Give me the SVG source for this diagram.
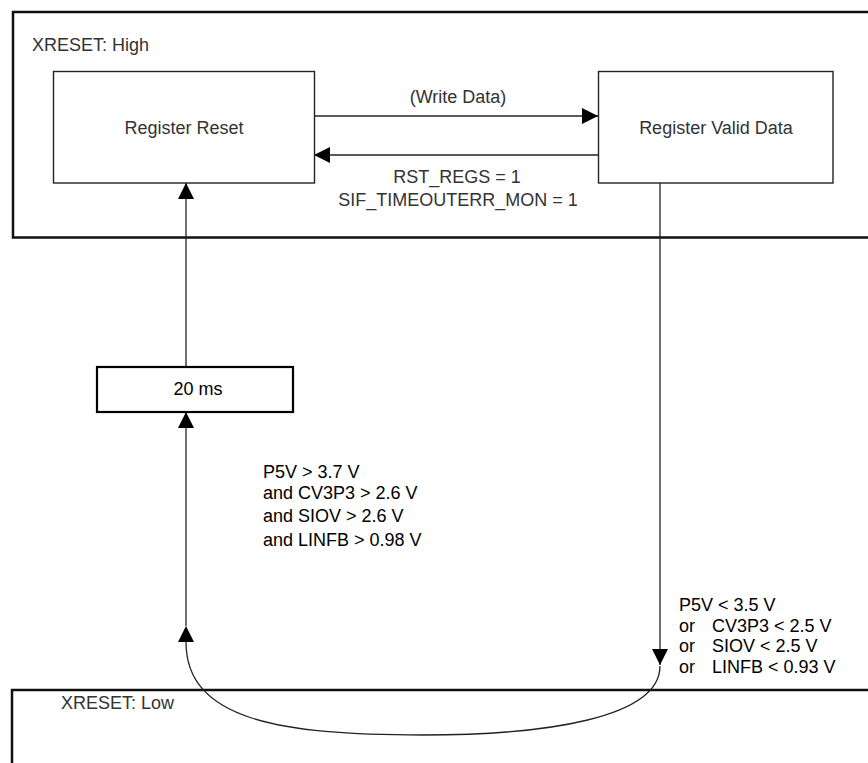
<svg xmlns="http://www.w3.org/2000/svg" width="868" height="763" viewBox="0 0 868 763">
<style>
  text { font-family: "Liberation Sans", Arial, sans-serif; font-size: 18px; fill: #000; }
  .top { fill: #333; }
  .frame { fill: none; stroke: #111; stroke-width: 2.5; }
  .node { fill: #fff; stroke: #222; stroke-width: 1.4; }
  .timer { fill: #fff; stroke: #000; stroke-width: 2.2; }
  .conn { fill: none; stroke: #222; stroke-width: 1.3; }
</style>
<defs>
  <marker id="ah" viewBox="0 0 16 16" refX="16" refY="8" markerWidth="16" markerHeight="16" markerUnits="userSpaceOnUse" orient="auto">
    <path d="M0,0 L16,8 L0,16 z" fill="#000"/>
  </marker>
  <marker id="ahb" viewBox="0 0 16 16" refX="0" refY="8" markerWidth="16" markerHeight="16" markerUnits="userSpaceOnUse" orient="auto">
    <path d="M0,0 L16,8 L0,16 z" fill="#000"/>
  </marker>
</defs>
<rect width="868" height="763" fill="#fff"/>

<g id="state-high">
  <rect class="frame" x="13" y="12" width="870" height="225.5"/>
  <text class="top" x="32" y="51">XRESET: High</text>
</g>
<g id="state-low">
  <rect class="frame" x="12" y="690" width="875" height="100"/>
  <text class="top" x="61" y="709">XRESET: Low</text>
</g>

<g id="connectors">
  <path class="conn" d="M314,116 H598" marker-end="url(#ah)"/>
  <path class="conn" d="M598,155 H314" marker-end="url(#ah)"/>
  <path class="conn" d="M186,367 V183" marker-end="url(#ah)"/>
  <path class="conn" d="M186,626 V412" marker-end="url(#ah)"/>
  <path class="conn" d="M660,183 V665" marker-end="url(#ah)"/>
  <path class="conn" d="M660,666 C660,718 546,735 423,735 C280,735 186,720 186,642" marker-end="url(#ahb)"/>
</g>

<g id="register-reset">
  <rect class="node" x="53.5" y="71.5" width="261" height="111.5"/>
  <text class="top" x="184" y="134" text-anchor="middle">Register Reset</text>
</g>
<g id="register-valid">
  <rect class="node" x="598.5" y="71.5" width="234.5" height="111.5"/>
  <text class="top" x="716" y="134" text-anchor="middle">Register Valid Data</text>
</g>
<g id="timer-20ms">
  <rect class="timer" x="97" y="367" width="196" height="45"/>
  <text x="198" y="395" text-anchor="middle">20 ms</text>
</g>

<g id="labels">
  <text class="top" x="458" y="103" text-anchor="middle">(Write Data)</text>
  <text class="top" x="457" y="183" text-anchor="middle">RST_REGS = 1</text>
  <text class="top" x="458" y="206" text-anchor="middle">SIF_TIMEOUTERR_MON = 1</text>

  <text x="263" y="478">P5V &gt; 3.7 V</text>
  <text x="263" y="498.5">and CV3P3 &gt; 2.6 V</text>
  <text x="263" y="522">and SIOV &gt; 2.6 V</text>
  <text x="263" y="546">and LINFB &gt; 0.98 V</text>

  <text x="679" y="611">P5V &lt; 3.5 V</text>
  <text x="679" y="632">or</text><text x="712" y="632">CV3P3 &lt; 2.5 V</text>
  <text x="679" y="652">or</text><text x="712" y="652">SIOV &lt; 2.5 V</text>
  <text x="679" y="673">or</text><text x="712" y="673">LINFB &lt; 0.93 V</text>
</g>
</svg>
